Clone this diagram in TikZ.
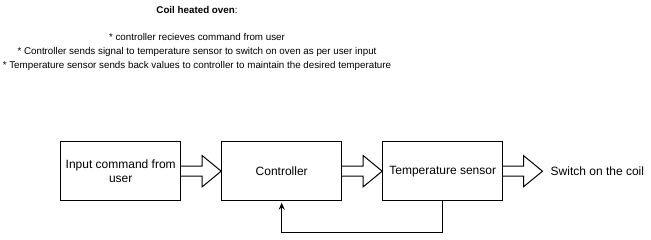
\documentclass[tikz,border=0pt]{standalone}
\usepackage{fontspec}
\setmainfont{Liberation Sans}
\usetikzlibrary{positioning,calc,arrows.meta}

\tikzset{
  block/.style={draw, line width=1pt, minimum width=120pt, minimum height=59pt, inner sep=2pt, align=center},
  feedback/.style={line width=1pt, -{Stealth[length=7pt,width=6pt]}, shorten >=1.5pt}
}

% hollow block arrow between two nodes (shaft +-5, head +-15.6, head length 19)
\newcommand{\hollowarrow}[2]{%
  \draw[line width=1pt, line join=miter]
    ($(#1.east)+(0,5)$) -- ($(#2.west)+(-19,5)$) -- ++(0,10.6)
    -- (#2.west)
    -- ($(#2.west)+(-19,-15.6)$) -- ++(0,10.6) -- ($(#1.east)+(0,-5)$);
}

\begin{document}
\begin{tikzpicture}[x=1pt, y=-1pt, font=\fontsize{12pt}{13.8pt}\selectfont]

    \useasboundingbox (0,0) rectangle (651,240);

    % Descrizione in alto
    \node[anchor=north, inner sep=0pt, align=center, font=\fontsize{9.8pt}{13.8pt}\selectfont] (notes) at (197,6)
        {\textbf{Coil heated oven}:\\[13.8pt]
         * controller recieves command from user\\
         * Controller sends signal to temperature sensor to switch on oven as per user input\\
         * Temperature sensor sends back values to controller to maintain the desired temperature};

    % Blocchi principali
    \node[block] (input) at (120.7,171.2) {Input command from\\user};
    \node[block, right=40pt of input] (ctrl) {Controller};
    \node[block, right=40pt of ctrl] (sensor) {Temperature sensor};

    % Uscita
    \node[anchor=west, inner xsep=8pt, inner ysep=0pt] (coil) at ($(sensor.east)+(39.3,0)$) {Switch on the coil};

    % Frecce a blocco
    \hollowarrow{input}{ctrl}
    \hollowarrow{ctrl}{sensor}
    \hollowarrow{sensor}{coil}

    % Retroazione sensore -> controller
    \draw[feedback] (sensor.south) -- ++(0,31) -| (ctrl.south);

\end{tikzpicture}
\end{document}
